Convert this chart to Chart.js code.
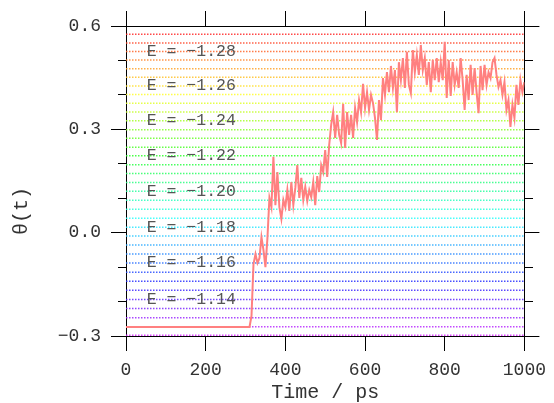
<!doctype html>
<html lang="en">
<head>
<meta charset="utf-8">
<script src="https://cdn.jsdelivr.net/npm/chart.js"></script>
<title>theta(t)</title>
<style>
  body { margin: 0; background: #fff; }
</style>
</head>
<body>
<canvas id="myChart" width="554" height="403"></canvas>
<script>
// trace: flat until 310 ps, then one value every 5 ps up to 1000 ps
const flatTheta = -0.274;
const traceStart = 310;
const traceStep = 5;
const traceTheta = [
  -0.274, -0.242, -0.091, -0.062, -0.088, -0.074, -0.013, -0.050, -0.100, -0.016,
  0.101, 0.074, 0.220, 0.080, 0.176, 0.074, 0.040, 0.095, 0.074, 0.124,
  0.063, 0.147, 0.080, 0.130, 0.196, 0.101, 0.159, 0.095, 0.133, 0.092,
  0.124, 0.103, 0.147, 0.080, 0.164, 0.118, 0.196, 0.176, 0.240, 0.162,
  0.254, 0.313, 0.350, 0.275, 0.342, 0.284, 0.260, 0.374, 0.246, 0.350,
  0.284, 0.342, 0.275, 0.362, 0.321, 0.385, 0.350, 0.432, 0.362, 0.408,
  0.356, 0.400, 0.376, 0.333, 0.269, 0.385, 0.327, 0.449, 0.400, 0.466,
  0.408, 0.484, 0.420, 0.472, 0.350, 0.495, 0.443, 0.507, 0.420, 0.525,
  0.429, 0.405, 0.530, 0.466, 0.516, 0.458, 0.545, 0.472, 0.507, 0.429,
  0.495, 0.408, 0.501, 0.443, 0.507, 0.437, 0.495, 0.443, 0.554, 0.391,
  0.501, 0.397, 0.495, 0.429, 0.466, 0.420, 0.507, 0.443, 0.356, 0.458,
  0.385, 0.487, 0.400, 0.478, 0.408, 0.347, 0.484, 0.414, 0.487, 0.429,
  0.466, 0.449, 0.495, 0.507, 0.458, 0.423, 0.443, 0.400, 0.437, 0.356,
  0.385, 0.307, 0.371, 0.333, 0.429, 0.371, 0.443, 0.408, 0.437
];

// dotted energy levels, top (red) to bottom (violet), in theta units
const levelTheta = [
  0.576, 0.551, 0.526, 0.501, 0.476, 0.451, 0.426, 0.401, 0.376, 0.350,
  0.325, 0.299, 0.274, 0.248, 0.223, 0.197, 0.172, 0.146, 0.120, 0.094,
  0.068, 0.042, 0.016, -0.010, -0.036, -0.062, -0.088, -0.115, -0.141, -0.167,
  -0.194, -0.220, -0.247, -0.273, -0.298
];
const energyLabels = ['E = −1.28', 'E = −1.26', 'E = −1.24', 'E = −1.22',
                      'E = −1.20', 'E = −1.18', 'E = −1.16', 'E = −1.14'];
const energyLabelLevel = [2, 6, 10, 14, 18, 22, 26, 30];
const labelTime = 52;

const xTicks = [0, 200, 400, 600, 800, 1000];
const yMajor = [-0.3, 0.0, 0.3, 0.6];

const MONO = '"Liberation Mono", "Courier New", monospace';

const tracePoints = [{x: 0, y: flatTheta}];
traceTheta.forEach((v, i) => tracePoints.push({x: traceStart + i * traceStep, y: v}));

const datasets = [{
  label: 'theta',
  data: tracePoints,
  borderColor: '#ff8080',
  borderWidth: 2,
  pointRadius: 0,
  tension: 0,
  order: 0
}];
levelTheta.forEach((v, i) => {
  const hue = i * 8.5;
  datasets.push({
    label: 'level' + i,
    data: [{x: 0, y: v}, {x: 1000, y: v}],
    borderColor: 'hsla(' + hue + ', 100%, 58%, 0.85)',
    borderWidth: 1.5,
    borderDash: [1.5, 1.5],
    pointRadius: 0,
    order: 1
  });
});

function isMajor(v) {
  return yMajor.some(m => Math.abs(m - v) < 1e-6);
}
function yLabel(v) {
  if (!isMajor(v)) return '';
  if (Math.abs(v) < 1e-6) return '0.0';
  return v.toFixed(1).replace('-', '−');
}

const energyLabelPlugin = {
  id: 'energyLabels',
  afterDatasetsDraw(chart) {
    const {ctx, scales: {x, y}} = chart;
    ctx.save();
    ctx.font = '16.5px ' + MONO;
    ctx.fillStyle = '#555';
    ctx.textBaseline = 'middle';
    ctx.textAlign = 'left';
    energyLabels.forEach((txt, k) => {
      ctx.fillText(txt, x.getPixelForValue(labelTime), y.getPixelForValue(levelTheta[energyLabelLevel[k]]));
    });
    ctx.restore();
  }
};

const tickFont = {family: MONO, size: 18};
const frame = {display: true, color: '#000', width: 1};

new Chart(document.getElementById('myChart'), {
  type: 'line',
  data: {datasets: datasets},
  options: {
    responsive: false,
    animation: false,
    layout: {padding: 0},
    plugins: {legend: {display: false}, tooltip: {enabled: false}},
    scales: {
      x: {
        type: 'linear', position: 'bottom', min: 0, max: 1000,
        afterBuildTicks: s => { s.ticks = xTicks.map(v => ({value: v})); },
        ticks: {font: tickFont, color: '#333', padding: 8, maxRotation: 0, callback: v => String(v)},
        grid: {drawOnChartArea: false, tickLength: 15, tickColor: '#000'},
        border: frame,
        title: {display: true, text: 'Time / ps', color: '#333',
                font: {family: MONO, size: 20, lineHeight: 1}, padding: {top: 0, bottom: 0}},
        afterFit: s => { s.height = 67; }
      },
      x2: {
        type: 'linear', position: 'top', min: 0, max: 1000,
        afterBuildTicks: s => { s.ticks = xTicks.map(v => ({value: v})); },
        ticks: {display: false},
        grid: {drawOnChartArea: false, tickLength: 15, tickColor: '#000'},
        border: frame,
        afterFit: s => { s.height = 26; }
      },
      y: {
        type: 'linear', position: 'left', min: -0.3, max: 0.6,
        ticks: {stepSize: 0.1, font: tickFont, color: '#333', padding: 10, autoSkip: false, callback: yLabel},
        grid: {drawOnChartArea: false, tickLength: 15, tickColor: '#000',
               tickBorderDash: c => isMajor(c.tick.value) ? [] : [0, 7, 8, 100]},
        border: frame,
        title: {display: true, text: 'θ(t)     ', color: '#333',
                font: {family: MONO, size: 20}, padding: {top: 10, bottom: 0}},
        afterFit: s => { s.width = 126; }
      },
      y2: {
        type: 'linear', position: 'right', min: -0.3, max: 0.6,
        ticks: {stepSize: 0.1, display: false},
        grid: {drawOnChartArea: false, tickLength: 15, tickColor: '#000',
               tickBorderDash: c => isMajor(c.tick.value) ? [] : [8, 100]},
        border: frame,
        afterFit: s => { s.width = 28; }
      }
    }
  },
  plugins: [energyLabelPlugin]
});
</script>
</body>
</html>
